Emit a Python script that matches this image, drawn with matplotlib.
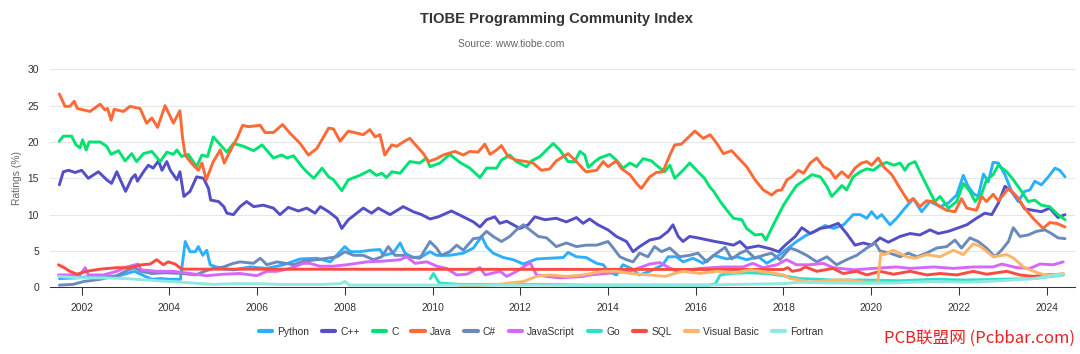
import matplotlib
matplotlib.use("Agg")
import matplotlib.pyplot as plt
from matplotlib.lines import Line2D

plt.rcParams['font.family'] = ['Liberation Sans', 'DejaVu Sans']

# ---------------- data (decimal year, rating %) ----------------
python_years = [2001.49, 2001.9, 2002.4, 2002.8, 2003.2, 2003.45, 2003.6, 2003.8, 2004.0, 2004.25, 2004.36, 2004.47,
                2004.59, 2004.66, 2004.76, 2004.85, 2004.93, 2005.16, 2005.46, 2005.84, 2006.22, 2006.6, 2006.98,
                2007.36, 2007.67, 2008.0, 2008.12, 2008.35, 2008.57, 2008.8, 2008.88, 2009.1, 2009.26, 2009.37,
                2009.56, 2009.75, 2009.94, 2010.09, 2010.39, 2010.7, 2010.93, 2011.12, 2011.23, 2011.38, 2011.61,
                2011.84, 2012.07, 2012.37, 2012.67, 2012.98, 2013.09, 2013.28, 2013.5, 2013.74, 2013.89, 2014.0,
                2014.19, 2014.34, 2014.53, 2014.72, 2014.95, 2015.25, 2015.37, 2015.56, 2015.71, 2015.94, 2016.17,
                2016.41, 2016.71, 2016.94, 2017.16, 2017.43, 2017.62, 2017.81, 2018.0, 2018.15, 2018.3, 2018.53,
                2018.72, 2018.95, 2019.14, 2019.37, 2019.48, 2019.59, 2019.75, 2019.9, 2020.01, 2020.13, 2020.24,
                2020.43, 2020.58, 2020.77, 2020.96, 2021.15, 2021.34, 2021.57, 2021.76, 2021.95, 2022.1, 2022.21,
                2022.33, 2022.44, 2022.56, 2022.67, 2022.78, 2022.9, 2023.05, 2023.2, 2023.35, 2023.5, 2023.62,
                2023.73, 2023.88, 2024.04, 2024.19, 2024.3, 2024.42]
python_vals = [1.2, 1.3, 1.6, 1.5, 2.2, 1.5, 1.1, 1.2, 1.1, 1.1, 6.3, 4.9,
               4.9, 5.6, 4.4, 5.1, 3.1, 2.6, 2.4, 2.8, 2.6, 3.1, 3.9,
               4.0, 3.5, 5.6, 4.9, 4.9, 5.1, 5.2, 4.4, 4.7, 6.1, 4.7,
               4.1, 4.2, 4.9, 4.4, 4.4, 4.7, 5.4, 7.0, 5.6, 4.7, 4.1,
               3.8, 3.2, 3.9, 4.0, 4.1, 4.8, 4.2, 4.1, 3.3, 3.1, 2.2,
               1.7, 3.1, 2.6, 1.7, 2.2, 3.1, 4.2, 4.2, 3.5, 4.0, 3.3,
               4.4, 3.9, 4.2, 3.8, 4.2, 3.3, 4.0, 4.9, 5.6, 6.3, 7.2,
               7.7, 8.5, 8.1, 8.6, 9.3, 10.0, 10.0, 9.5, 10.4, 9.5, 10.0,
               8.6, 9.5, 10.9, 12.2, 10.4, 11.8, 11.1, 11.6, 12.7, 15.4, 13.9,
               12.9, 12.5, 15.6, 14.5, 17.2, 17.1, 15.5, 13.2, 11.8, 13.2, 13.4,
               14.6, 14.1, 15.2, 16.4, 16.1, 15.2]

cpp_years = [2001.49, 2001.58, 2001.7, 2001.85, 2002.0, 2002.15, 2002.38, 2002.57, 2002.68, 2002.8, 2003.0, 2003.14,
             2003.22, 2003.27, 2003.41, 2003.52, 2003.63, 2003.75, 2003.83, 2003.94, 2004.02, 2004.17, 2004.24,
             2004.33, 2004.47, 2004.62, 2004.78, 2004.89, 2004.94, 2005.12, 2005.24, 2005.31, 2005.46, 2005.54,
             2005.61, 2005.76, 2005.92, 2006.14, 2006.37, 2006.52, 2006.71, 2006.94, 2007.13, 2007.32, 2007.44,
             2007.63, 2007.82, 2007.93, 2008.08, 2008.27, 2008.42, 2008.61, 2008.76, 2009.03, 2009.33, 2009.56,
             2009.75, 2009.94, 2010.13, 2010.43, 2010.7, 2010.93, 2011.08, 2011.23, 2011.42, 2011.53, 2011.69,
             2011.84, 2011.99, 2012.18, 2012.33, 2012.56, 2012.82, 2013.05, 2013.28, 2013.43, 2013.58, 2013.77,
             2014.0, 2014.19, 2014.42, 2014.57, 2014.72, 2014.95, 2015.18, 2015.37, 2015.48, 2015.6, 2015.71,
             2015.86, 2016.05, 2016.29, 2016.44, 2016.63, 2016.86, 2017.01, 2017.16, 2017.43, 2017.7, 2017.89,
             2018.04, 2018.27, 2018.42, 2018.61, 2018.84, 2019.03, 2019.25, 2019.44, 2019.63, 2019.82, 2020.01,
             2020.2, 2020.39, 2020.66, 2020.89, 2021.11, 2021.34, 2021.53, 2021.76, 2021.95, 2022.18, 2022.4,
             2022.59, 2022.75, 2022.9, 2023.05, 2023.2, 2023.35, 2023.5, 2023.69, 2023.88, 2024.07, 2024.26,
             2024.42]
cpp_vals = [14.1, 15.9, 16.1, 15.8, 16.1, 15.0, 15.9, 14.8, 14.3, 15.9, 13.2, 15.0,
            15.5, 14.6, 15.9, 16.8, 16.4, 17.4, 16.1, 17.3, 16.1, 14.8, 15.9,
            12.5, 13.2, 15.2, 15.0, 13.6, 12.0, 11.8, 11.1, 10.2, 10.0, 10.6,
            11.1, 11.8, 11.1, 11.3, 10.9, 10.0, 11.0, 10.5, 10.9, 10.2, 11.1,
            10.4, 9.5, 8.1, 9.3, 10.2, 10.9, 10.2, 10.9, 10.0, 11.1, 10.4,
            10.0, 9.4, 9.7, 10.5, 9.7, 9.0, 8.3, 9.3, 9.7, 8.8, 9.1,
            8.6, 8.1, 8.6, 9.7, 9.3, 9.5, 9.0, 9.6, 8.8, 9.4, 8.6,
            7.9, 7.0, 6.3, 4.9, 5.6, 6.5, 6.8, 7.7, 8.6, 7.0, 6.3,
            7.0, 6.8, 6.5, 6.3, 6.1, 5.8, 6.3, 5.4, 5.7, 5.3, 4.9,
            5.8, 7.0, 8.2, 7.4, 8.1, 8.3, 8.8, 7.4, 5.8, 6.1, 5.8,
            6.8, 6.2, 7.0, 7.4, 7.2, 7.9, 7.4, 7.7, 8.1, 8.6, 9.5,
            10.2, 10.0, 11.6, 13.9, 13.2, 12.2, 10.8, 10.6, 10.4, 10.9, 9.6,
            10.0]

c_years = [2001.49, 2001.58, 2001.77, 2001.87, 2001.96, 2002.02, 2002.1, 2002.17, 2002.42, 2002.57, 2002.67, 2002.84,
           2002.99, 2003.14, 2003.25, 2003.41, 2003.6, 2003.79, 2003.94, 2004.09, 2004.17, 2004.28, 2004.43,
           2004.62, 2004.74, 2004.87, 2005.0, 2005.19, 2005.31, 2005.46, 2005.69, 2005.92, 2006.11, 2006.37,
           2006.56, 2006.68, 2006.83, 2007.02, 2007.13, 2007.29, 2007.48, 2007.63, 2007.74, 2007.93, 2008.08,
           2008.34, 2008.57, 2008.72, 2008.84, 2008.95, 2009.07, 2009.26, 2009.48, 2009.71, 2009.86, 2009.94,
           2010.17, 2010.39, 2010.62, 2010.85, 2011.08, 2011.23, 2011.46, 2011.57, 2011.76, 2011.91, 2012.14,
           2012.26, 2012.45, 2012.75, 2012.9, 2013.09, 2013.24, 2013.36, 2013.47, 2013.55, 2013.7, 2013.81,
           2014.04, 2014.19, 2014.34, 2014.5, 2014.65, 2014.8, 2014.99, 2015.1, 2015.29, 2015.41, 2015.52,
           2015.71, 2015.86, 2016.05, 2016.2, 2016.32, 2016.41, 2016.56, 2016.71, 2016.86, 2017.05, 2017.16,
           2017.35, 2017.51, 2017.6, 2017.77, 2018.0, 2018.15, 2018.3, 2018.49, 2018.65, 2018.84, 2018.99,
           2019.1, 2019.21, 2019.33, 2019.44, 2019.59, 2019.75, 2019.9, 2020.05, 2020.2, 2020.35, 2020.52,
           2020.66, 2020.77, 2020.85, 2021.0, 2021.11, 2021.3, 2021.45, 2021.57, 2021.76, 2021.95, 2022.1,
           2022.25, 2022.37, 2022.52, 2022.63, 2022.78, 2022.9, 2023.09, 2023.24, 2023.43, 2023.58, 2023.73,
           2023.88, 2024.07, 2024.26, 2024.42]
c_vals = [20.1, 20.8, 20.8, 19.6, 19.2, 20.3, 18.9, 20.0, 20.0, 19.4, 18.3, 18.8,
          17.4, 18.4, 17.3, 18.4, 18.7, 17.3, 18.6, 18.3, 18.9, 18.0, 18.3,
          16.6, 18.2, 18.0, 20.7, 19.4, 18.6, 19.8, 19.4, 18.8, 19.6, 17.8,
          18.2, 17.8, 18.1, 16.6, 15.9, 15.0, 16.4, 15.2, 14.8, 13.3, 14.8,
          15.4, 16.1, 15.4, 15.7, 15.1, 15.9, 15.7, 17.3, 17.1, 17.8, 16.6,
          17.1, 18.3, 17.2, 16.4, 15.1, 16.4, 16.4, 17.5, 18.2, 17.3, 16.6,
          17.4, 18.0, 19.8, 18.9, 17.3, 17.3, 18.7, 18.2, 16.5, 17.3, 17.8,
          18.3, 17.5, 16.4, 17.1, 16.6, 17.7, 17.4, 16.8, 15.9, 16.8, 15.0,
          16.1, 17.1, 15.9, 15.0, 13.8, 13.2, 11.8, 10.6, 9.5, 9.3, 8.1,
          7.2, 7.3, 6.5, 8.6, 11.3, 12.7, 14.0, 14.8, 15.5, 15.2, 13.9,
          12.5, 13.2, 14.0, 13.4, 15.2, 15.9, 16.3, 16.1, 16.8, 17.2, 16.8,
          17.1, 16.1, 16.9, 17.3, 15.9, 13.6, 11.8, 12.5, 10.9, 11.8, 14.3,
          13.2, 11.8, 12.9, 14.8, 15.5, 16.8, 15.9, 14.8, 13.2, 11.8, 12.0,
          11.3, 11.1, 10.0, 9.3]

java_years = [2001.49, 2001.62, 2001.73, 2001.83, 2001.9, 2002.19, 2002.42, 2002.53, 2002.59, 2002.67, 2002.74, 2002.95,
              2003.1, 2003.33, 2003.48, 2003.6, 2003.73, 2003.9, 2004.09, 2004.24, 2004.3, 2004.36, 2004.5,
              2004.66, 2004.74, 2004.84, 2005.0, 2005.16, 2005.25, 2005.38, 2005.54, 2005.67, 2005.8, 2006.07,
              2006.18, 2006.37, 2006.58, 2006.75, 2006.98, 2007.17, 2007.36, 2007.63, 2007.74, 2007.89, 2008.08,
              2008.42, 2008.57, 2008.69, 2008.8, 2008.91, 2009.07, 2009.18, 2009.33, 2009.48, 2009.64, 2009.79,
              2009.9, 2010.09, 2010.24, 2010.51, 2010.7, 2010.85, 2011.04, 2011.19, 2011.31, 2011.46, 2011.57,
              2011.72, 2011.91, 2012.14, 2012.29, 2012.48, 2012.67, 2012.82, 2013.09, 2013.28, 2013.43, 2013.5,
              2013.74, 2013.89, 2014.0, 2014.19, 2014.31, 2014.5, 2014.65, 2014.76, 2014.95, 2015.1, 2015.25,
              2015.41, 2015.52, 2015.67, 2015.98, 2016.17, 2016.33, 2016.48, 2016.63, 2016.82, 2016.94, 2017.16,
              2017.35, 2017.54, 2017.73, 2017.85, 2017.96, 2018.08, 2018.19, 2018.34, 2018.46, 2018.61, 2018.76,
              2018.91, 2019.06, 2019.18, 2019.33, 2019.48, 2019.63, 2019.78, 2019.9, 2020.01, 2020.16, 2020.28,
              2020.47, 2020.66, 2020.85, 2020.96, 2021.11, 2021.26, 2021.42, 2021.57, 2021.72, 2021.91, 2022.06,
              2022.18, 2022.4, 2022.52, 2022.63, 2022.78, 2022.9, 2023.13, 2023.32, 2023.5, 2023.69, 2023.92,
              2024.07, 2024.23, 2024.42]
java_vals = [26.6, 24.9, 24.9, 25.6, 24.6, 24.2, 25.2, 24.4, 24.6, 23.0, 24.5, 24.2,
             24.9, 24.6, 22.6, 23.3, 22.0, 25.0, 22.6, 24.3, 20.5, 18.2, 17.1,
             16.1, 17.1, 14.8, 17.3, 18.9, 17.1, 18.7, 20.5, 22.3, 22.1, 22.3,
             21.3, 21.3, 22.4, 21.2, 19.8, 18.2, 19.1, 21.9, 21.8, 20.1, 21.5,
             21.0, 21.7, 20.7, 21.0, 18.2, 19.6, 19.4, 20.0, 20.5, 19.4, 18.4,
             17.3, 17.7, 18.2, 18.7, 18.2, 18.7, 18.6, 19.7, 18.3, 18.9, 19.5,
             18.0, 17.5, 17.3, 17.1, 16.1, 16.3, 17.4, 18.4, 17.3, 16.3, 15.9,
             16.1, 17.3, 16.6, 17.4, 16.3, 15.5, 14.3, 13.6, 15.2, 15.8, 15.9,
             18.2, 19.6, 19.7, 21.5, 20.5, 21.0, 19.8, 18.4, 18.8, 18.0, 16.6,
             14.8, 13.4, 12.7, 13.3, 13.4, 14.8, 15.2, 16.1, 15.7, 17.1, 17.8,
             16.6, 16.1, 15.0, 15.9, 15.1, 16.4, 17.1, 17.3, 16.8, 17.8, 16.6,
             15.5, 13.6, 11.8, 12.2, 11.1, 11.9, 11.8, 11.1, 10.6, 10.4, 12.2,
             10.9, 10.6, 12.5, 11.8, 12.8, 11.9, 13.6, 12.5, 10.9, 9.5, 8.1,
             8.9, 8.8, 8.3]

csharp_years = [2001.49, 2001.8, 2002.05, 2002.42, 2002.8, 2003.06, 2003.2, 2003.35, 2003.6, 2003.9, 2004.3, 2004.6,
                2004.8, 2005.0, 2005.23, 2005.46, 2005.61, 2005.92, 2006.07, 2006.14, 2006.22, 2006.45, 2006.83,
                2007.06, 2007.36, 2007.6, 2007.82, 2008.0, 2008.2, 2008.42, 2008.65, 2008.84, 2008.99, 2009.14,
                2009.33, 2009.48, 2009.71, 2009.94, 2010.09, 2010.2, 2010.39, 2010.55, 2010.7, 2010.93, 2011.08,
                2011.23, 2011.38, 2011.57, 2011.76, 2011.91, 2012.07, 2012.26, 2012.41, 2012.6, 2012.82, 2013.05,
                2013.28, 2013.5, 2013.74, 2014.0, 2014.12, 2014.27, 2014.42, 2014.57, 2014.72, 2014.91, 2015.06,
                2015.22, 2015.41, 2015.63, 2015.86, 2016.05, 2016.25, 2016.41, 2016.67, 2016.82, 2017.01, 2017.16,
                2017.35, 2017.54, 2017.73, 2017.92, 2018.15, 2018.3, 2018.53, 2018.76, 2018.99, 2019.21, 2019.44,
                2019.67, 2019.9, 2020.09, 2020.2, 2020.43, 2020.66, 2020.85, 2021.04, 2021.26, 2021.49, 2021.72,
                2021.91, 2022.06, 2022.25, 2022.44, 2022.63, 2022.82, 2022.97, 2023.13, 2023.24, 2023.39, 2023.58,
                2023.77, 2023.96, 2024.11, 2024.26, 2024.42]
csharp_vals = [0.3, 0.4, 0.8, 1.1, 1.6, 2.4, 2.7, 2.2, 1.9, 2.0, 1.9, 1.7,
               2.2, 2.6, 2.8, 3.3, 3.5, 3.3, 4.0, 3.6, 3.1, 3.5, 3.1,
               3.6, 3.8, 4.0, 4.2, 4.9, 4.4, 4.4, 3.8, 4.2, 5.6, 4.4,
               4.4, 4.2, 4.0, 6.3, 5.4, 4.4, 4.9, 5.8, 5.1, 6.7, 6.8,
               7.7, 7.0, 6.3, 7.0, 7.9, 8.6, 7.7, 7.0, 6.8, 5.6, 6.1,
               5.6, 5.8, 5.8, 6.3, 5.4, 4.2, 3.8, 3.5, 4.7, 4.2, 5.6,
               4.9, 5.4, 4.2, 4.4, 4.7, 3.5, 4.4, 5.5, 3.9, 4.7, 5.1,
               4.0, 4.4, 4.7, 3.8, 5.4, 5.1, 4.4, 3.5, 4.2, 3.1, 3.8,
               4.4, 5.4, 6.1, 5.0, 4.7, 4.2, 4.7, 4.2, 4.7, 5.4, 5.6,
               6.5, 5.4, 6.8, 6.3, 5.4, 4.2, 5.1, 6.3, 8.2, 7.0, 7.2,
               7.7, 7.9, 7.4, 6.8, 6.7]

js_years = [2001.47, 2001.96, 2002.08, 2002.15, 2002.49, 2002.8, 2003.03, 2003.29, 2003.35, 2003.71, 2004.09, 2004.47,
            2004.85, 2005.23, 2005.61, 2005.99, 2006.22, 2006.45, 2006.75, 2007.05, 2007.2, 2007.43, 2007.73,
            2008.04, 2008.5, 2008.87, 2009.26, 2009.41, 2009.6, 2009.87, 2010.1, 2010.32, 2010.55, 2010.78,
            2011.08, 2011.2, 2011.54, 2011.69, 2011.92, 2012.22, 2012.37, 2012.6, 2012.9, 2013.43, 2013.58,
            2014.49, 2014.95, 2015.18, 2015.36, 2015.57, 2016.1, 2016.63, 2017.08, 2017.3, 2017.53, 2017.85,
            2018.07, 2018.3, 2018.6, 2018.91, 2019.13, 2019.6, 2020.05, 2020.58, 2020.89, 2021.42, 2021.87,
            2022.33, 2022.78, 2022.98, 2023.32, 2023.62, 2023.85, 2024.15, 2024.38]
js_vals = [1.7, 1.7, 2.7, 1.7, 1.7, 2.2, 2.8, 3.2, 2.4, 2.2, 2.2, 1.9,
           1.6, 1.8, 1.9, 1.6, 2.2, 2.2, 2.6, 3.3, 3.3, 2.9, 2.9,
           3.1, 3.5, 3.6, 3.8, 4.2, 3.3, 3.5, 2.9, 2.6, 1.7, 1.8,
           2.7, 1.7, 2.2, 1.5, 2.2, 3.4, 1.7, 1.5, 1.3, 1.5, 1.7,
           2.2, 3.2, 3.4, 2.8, 2.2, 2.6, 2.8, 2.8, 3.3, 2.7, 3.1,
           3.8, 3.1, 3.1, 3.3, 2.7, 2.4, 2.6, 2.8, 2.6, 2.8, 2.6,
           2.8, 2.8, 3.2, 2.7, 2.6, 3.2, 3.1, 3.5]

go_years = [2009.95, 2010.02, 2010.15, 2010.6, 2011.5, 2012.5, 2013.5, 2014.5, 2015.5, 2016.3, 2016.45, 2016.56,
            2016.8, 2017.2, 2017.6, 2018.0, 2018.38, 2018.8, 2019.13, 2019.9, 2020.66, 2021.42, 2022.18,
            2022.94, 2023.7, 2024.38]
go_vals = [1.2, 1.9, 0.6, 0.4, 0.4, 0.4, 0.3, 0.3, 0.3, 0.3, 0.5, 1.7,
           1.9, 2.0, 1.9, 1.6, 1.2, 1.1, 1.0, 1.0, 0.9, 1.1, 1.0,
           1.1, 1.2, 1.7]

sql_years = [2001.47, 2001.6, 2001.73, 2001.89, 2002.11, 2002.42, 2002.8, 2003.1, 2003.37, 2003.56, 2003.71, 2003.86,
             2003.97, 2004.13, 2004.28, 2018.0, 2018.1, 2018.2, 2018.38, 2018.5, 2018.76, 2019.13, 2019.36,
             2019.67, 2019.9, 2020.2, 2020.51, 2020.89, 2021.27, 2021.57, 2021.95, 2022.33, 2022.63, 2023.09,
             2023.39, 2023.7, 2024.0, 2024.38]
sql_vals = [3.1, 2.7, 2.2, 1.8, 2.2, 2.5, 2.7, 2.7, 3.1, 3.2, 3.8, 3.1,
            3.5, 3.2, 2.5, 2.45, 2.7, 2.2, 2.4, 2.8, 2.2, 2.6, 1.9,
            2.2, 1.7, 2.2, 1.8, 2.2, 1.7, 1.9, 1.7, 2.2, 1.8, 2.2,
            1.7, 1.5, 1.7, 1.8]

vb_years = [2010.62, 2011.0, 2011.5, 2012.07, 2012.37, 2012.67, 2013.05, 2013.43, 2013.89, 2014.2, 2014.5, 2014.95,
            2015.3, 2015.7, 2016.1, 2016.48, 2016.9, 2017.24, 2017.6, 2018.0, 2018.15, 2018.38, 2018.6,
            2019.13, 2019.5, 2019.9, 2020.15, 2020.22, 2020.3, 2020.5, 2020.81, 2021.0, 2021.27, 2021.57,
            2021.87, 2022.1, 2022.33, 2022.5, 2022.78, 2023.09, 2023.25, 2023.47, 2023.7, 2024.0, 2024.38]
vb_vals = [0.2, 0.2, 0.4, 0.8, 1.5, 1.7, 1.5, 1.7, 2.2, 2.2, 1.9, 1.7,
           1.5, 2.2, 1.9, 2.2, 2.0, 2.4, 2.1, 1.7, 1.2, 1.0, 0.7,
           1.0, 1.0, 0.7, 0.7, 4.7, 4.5, 5.1, 4.2, 4.0, 4.5, 4.2,
           5.1, 4.5, 6.0, 5.6, 4.2, 4.5, 4.0, 2.8, 2.2, 1.6, 1.9]

fortran_years = [2001.47, 2001.96, 2002.5, 2003.0, 2003.5, 2004.0, 2004.5, 2005.0, 2005.5, 2006.0, 2006.5, 2007.0,
                 2007.5, 2007.9, 2008.0, 2008.1, 2009.0, 2010.0, 2011.0, 2012.0, 2013.0, 2014.0, 2015.0,
                 2016.0, 2017.0, 2018.0, 2018.38, 2019.0, 2019.9, 2020.5, 2021.42, 2022.18, 2022.94, 2023.7,
                 2024.38]
fortran_vals = [1.5, 1.3, 1.3, 1.2, 1.0, 0.8, 0.6, 0.4, 0.5, 0.5, 0.4, 0.4,
                0.4, 0.5, 0.8, 0.3, 0.3, 0.3, 0.3, 0.3, 0.3, 0.3, 0.3,
                0.3, 0.4, 0.5, 0.7, 0.6, 0.55, 0.6, 0.8, 0.7, 0.9, 1.2,
                1.8]

series_names = ["Python", "C++", "C", "Java", "C#", "JavaScript", "Go", "SQL", "Visual Basic", "Fortran"]
series_years = [python_years, cpp_years, c_years, java_years, csharp_years, js_years, go_years, sql_years,
                vb_years, fortran_years]
series_vals = [python_vals, cpp_vals, c_vals, java_vals, csharp_vals, js_vals, go_vals, sql_vals,
               vb_vals, fortran_vals]
series_colors = ["#2caffe", "#544fc5", "#00e272", "#fe6a35", "#6b8abc", "#d568fb", "#2ee0ca", "#fa4b42",
                 "#feb56a", "#91e8e1"]

tick_years = list(range(2002, 2025, 2))
y_ticks = [0, 5, 10, 15, 20, 25, 30]

# ---------------- figure ----------------
W, H = 1080, 354
fig = plt.figure(figsize=(W / 100, H / 100), dpi=100)
left, right, top, bottom = 50, 1075, 69.3, 287.3
ax = fig.add_axes([left / W, (H - bottom) / H, (right - left) / W, (bottom - top) / H])

for name, xs, ys, col in zip(series_names, series_years, series_vals, series_colors):
    ax.plot(xs, ys, color=col, lw=2.1, solid_joinstyle='round', solid_capstyle='round', label=name)

ax.set_xlim(2001.277, 2024.647)
ax.set_ylim(0, 30)
ax.set_yticks(y_ticks)
ax.set_xticks(tick_years)
ax.set_xticklabels([str(y) for y in tick_years])
ax.grid(axis='y', color='#e6e6e6', lw=0.75)
ax.set_axisbelow(True)
for s in ['top', 'right', 'left']:
    ax.spines[s].set_visible(False)
ax.spines['bottom'].set_color('#333333')
ax.spines['bottom'].set_linewidth(0.75)
ax.tick_params(axis='x', length=6, width=0.75, color='#333333', labelsize=7.4, labelcolor='#333333', pad=5)
ax.tick_params(axis='y', length=0, labelsize=7.4, labelcolor='#333333', pad=8)
ax.set_ylabel("Ratings (%)", fontsize=7.4, color='#666666', labelpad=4)

fig.text(556 / W, 1 - 19 / H, "TIOBE Programming Community Index", ha='center', va='center',
         fontsize=10.6, fontweight='bold', color='#333333')
fig.text(511 / W, 1 - 44 / H, "Source: www.tiobe.com", ha='center', va='center',
         fontsize=7.4, color='#666666')

handles = [Line2D([0], [0], color=c, lw=3, solid_capstyle='round') for c in series_colors]
leg = fig.legend(handles, series_names, loc='center', bbox_to_anchor=(541 / W, 1 - 332 / H), ncol=10,
                 frameon=False, fontsize=7.4, handlelength=1.3, handletextpad=0.5, columnspacing=1.25)
for t in leg.get_texts():
    t.set_color('#333333')

fig.text(1075 / W, 1 - 338 / H, "PCB联盟网 (Pcbbar.com)", ha='right', va='center', fontsize=12,
         color='#e8201e', family=['Noto Sans CJK SC', 'DejaVu Sans'])

fig.savefig("out.png", dpi=100)
